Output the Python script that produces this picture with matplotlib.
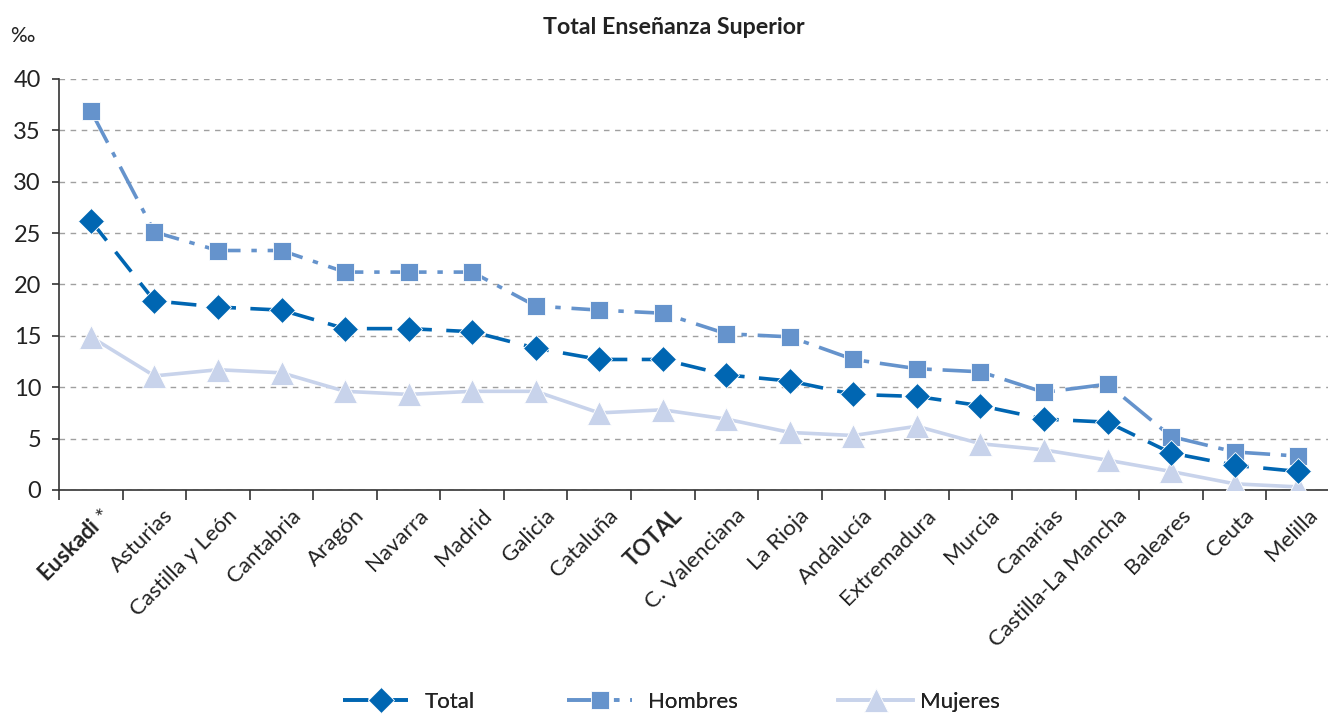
import matplotlib
matplotlib.use("Agg")
import matplotlib.pyplot as plt
import matplotlib.transforms as mtransforms
from matplotlib.lines import Line2D
import numpy as np

plt.rcParams['font.family'] = ['Lato', 'DejaVu Sans']
plt.rcParams['mathtext.fontset'] = 'custom'
plt.rcParams['mathtext.rm'] = 'Lato'
plt.rcParams['mathtext.bf'] = 'Lato:bold'

categories = ["$\\mathbf{Euskadi}$ *", "Asturias", "Castilla y León", "Cantabria", "Aragón",
              "Navarra", "Madrid", "Galicia", "Cataluña", "TOTAL", "C. Valenciana",
              "La Rioja", "Andalucía", "Extremadura", "Murcia", "Canarias",
              "Castilla-La Mancha", "Baleares", "Ceuta", "Melilla"]
total = [26.2, 18.4, 17.8, 17.5, 15.7, 15.7, 15.4, 13.8, 12.7, 12.7, 11.2, 10.6, 9.3, 9.1, 8.2, 6.9, 6.6, 3.6, 2.4, 1.8]
hombres = [36.9, 25.1, 23.3, 23.3, 21.2, 21.2, 21.2, 17.9, 17.5, 17.2, 15.2, 14.9, 12.7, 11.8, 11.5, 9.5, 10.3, 5.2, 3.7, 3.3]
mujeres = [14.9, 11.1, 11.7, 11.4, 9.6, 9.3, 9.6, 9.6, 7.5, 7.8, 6.9, 5.6, 5.3, 6.2, 4.5, 3.9, 2.9, 1.8, 0.6, 0.3]
yticks = [0, 5, 10, 15, 20, 25, 30, 35, 40]
series_names = ['Total', 'Hombres', 'Mujeres']

c_total = '#0066B2'
c_hom = '#6593CC'
c_muj = '#C8D3EB'

st_total = dict(color=c_total, lw=2.6, ls=(0, (7, 4)), marker='D', ms=13, mec='white', mew=0.6)
st_hom = dict(color=c_hom, lw=2.6, ls=(0, (10, 3, 1.5, 3)), marker='s', ms=13, mec='white', mew=0.6)
st_muj = dict(color=c_muj, lw=2.6, ls='-', marker='^', ms=17, mec='white', mew=0.6)

fig = plt.figure(figsize=(13.28, 7.15), dpi=100)
ax = fig.add_axes([0.0445, 0.3147, 0.957, 0.575])
x = np.arange(len(categories))

ax.plot(x, mujeres, label='Mujeres', zorder=3, **st_muj)
ax.plot(x, hombres, label='Hombres', zorder=4, **st_hom)
ax.plot(x, total, label='Total', zorder=5, **st_total)

ax.set_xlim(-0.5, len(categories) - 0.5)
ax.set_ylim(0, 40)
ax.set_yticks(yticks)
ax.yaxis.grid(True, ls=(0, (4, 4)), color='#a0a0a0', lw=1)
ax.set_axisbelow(True)
for s in ['top', 'right']:
    ax.spines[s].set_visible(False)
for s in ['left', 'bottom']:
    ax.spines[s].set_color('#333333')
    ax.spines[s].set_linewidth(1.2)

ax.set_xticks(np.arange(-0.5, len(categories), 1.0), minor=False)
ax.set_xticklabels([])
ax.tick_params(axis='x', which='major', length=7, width=1.2, color='#333333')
ax.set_xticks(x, minor=True)
ax.tick_params(axis='x', which='minor', length=0, pad=11)
ax.set_xticklabels(categories, minor=True, rotation=45, ha='right', va='top',
                   rotation_mode='anchor', fontsize=16, color='#222222')
offset = mtransforms.ScaledTranslation(9 / 100, 0, fig.dpi_scale_trans)
for lbl in ax.get_xticklabels(minor=True):
    lbl.set_transform(lbl.get_transform() + offset)
    if lbl.get_text() == 'TOTAL':
        lbl.set_fontweight('bold')
ax.tick_params(axis='y', length=5, width=1.2, color='#333333', labelsize=17,
               labelcolor='#222222', pad=8)

fig.text(0.5075, 0.961, 'Total Enseñanza Superior', ha='center', va='center',
         fontsize=16.7, fontweight='bold', color='#222222')
fig.text(0.017, 0.95, '‰', ha='center', va='center', fontsize=15, color='#222222')

# legend entries: (style, label, left px, handle length em, text pad em)
leg_specs = [(st_total, series_names[0], 343, 3.38, 0.30),
             (st_hom, series_names[1], 567, 2.93, 0.72),
             (st_muj, series_names[2], 838, 3.38, 0.30)]
for st, name, left, hl, tp in leg_specs:
    h = Line2D([], [], **st)
    lg = fig.legend([h], [name], loc='center left', bbox_to_anchor=(left / 1328, 0.018),
                    frameon=False, fontsize=16, handlelength=hl, handletextpad=tp,
                    borderpad=0, borderaxespad=0, labelcolor='#222222')
    fig.add_artist(lg)

fig.savefig('out.png', dpi=100)
